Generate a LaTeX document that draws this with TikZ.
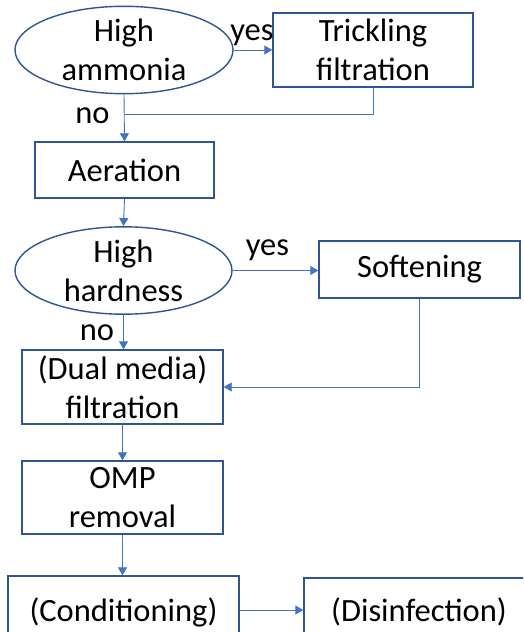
\documentclass[tikz,border=0pt]{standalone}
\usepackage{fontspec}
\setmainfont{Carlito}
\usetikzlibrary{shapes.geometric,arrows.meta}
\definecolor{boxc}{HTML}{2F5597}
\definecolor{arrc}{HTML}{4472C4}
\begin{document}
\begin{tikzpicture}[x=1pt,y=-1pt,
  every node/.style={font=\fontsize{32.5}{39}\selectfont, text=black},
  procbox/.style={draw=boxc, line width=1.4pt, rectangle, inner sep=0pt, align=center},
  decision/.style={draw=boxc, line width=1.4pt, ellipse, inner sep=0pt, align=center},
  conn/.style={draw=arrc, line width=0.9pt},
  arr/.style={conn, -{Triangle[length=8pt,width=9pt]}},
  lbl/.style={anchor=base, inner sep=0pt}]
\useasboundingbox (0,0) rectangle (523,632);
\clip (0,0) rectangle (523,632);
\fill[white] (0,0) rectangle (523,632);
\node[decision, minimum width=218pt, minimum height=82pt] (e1) at (124,50) {High\\ammonia};
\node[procbox, minimum width=200pt, minimum height=74pt] (trick) at (373,50) {Trickling\\filtration};
\node[procbox, minimum width=179pt, minimum height=56pt] (aer) at (124.5,170) {Aeration};
\node[decision, minimum width=217pt, minimum height=85pt] (e2) at (123.5,270.5) {High\\hardness};
\node[procbox, minimum width=201pt, minimum height=57pt] (soft) at (419.5,269.5) {Softening};
\node[procbox, minimum width=201pt, minimum height=74pt] (dual) at (122.5,387) {(Dual media)\\filtration};
\node[procbox, minimum width=201pt, minimum height=73pt] (omp) at (122.5,497.5) {OMP\\removal};
\node[procbox, minimum width=231pt, minimum height=72pt] (cond) at (123.5,612) {(Conditioning)};
\node[procbox, minimum width=230pt, minimum height=68pt] (dis) at (419,612) {(Disinfection)};
\coordinate (j1) at (e1.south |- 0,114);
\draw[arr] (e1.east) -- (e1.east -| trick.west);
\draw[conn] (trick.south) |- (j1);
\draw[arr] (e1.south) -- (aer.north);
\draw[arr] (aer.south) -- (e2.north);
\draw[arr] (e2.east) -- (e2.east -| soft.west);
\draw[arr] (e2.south) -- (e2.south |- dual.north);
\draw[arr] (soft.south) |- (dual.east);
\draw[arr] (dual.south) -- (omp.north);
\draw[arr] (omp.south) -- (omp.south |- cond.north);
\draw[arr] (cond.east |- 0,610) -- (dis.west |- 0,610);
\node[lbl] (yes1) at (252,40) {yes};
\node[lbl] (no1) at (92.5,123) {no};
\node[lbl] (yes2) at (267.5,255) {yes};
\node[lbl] (no2) at (97,340) {no};
\end{tikzpicture}
\end{document}
